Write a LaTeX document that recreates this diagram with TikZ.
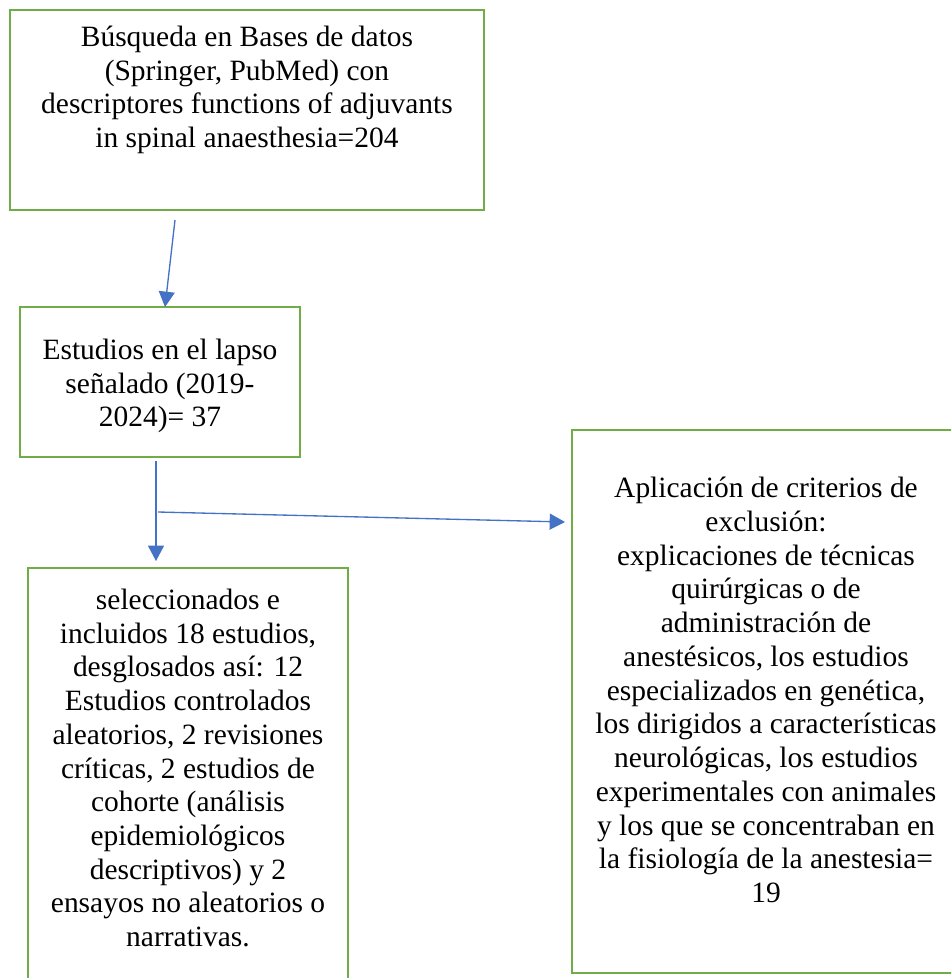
\documentclass[tikz,border=0pt]{standalone}
\usepackage{fontspec}
\setmainfont{Liberation Serif}
\usetikzlibrary{positioning}
\usetikzlibrary{arrows.meta}
\definecolor{boxgreen}{HTML}{70AD47}
\definecolor{arrowblue}{HTML}{4472C4}
\tikzset{
	stepbox/.style={draw=boxgreen, line width=2pt, rectangle, inner sep=0pt},
	steptext/.style={align=center, inner sep=0pt, font=\fontsize{22.1}{25.3}\selectfont},
	flow/.style={draw=arrowblue, line width=1pt, -{Triangle[length=11.5pt, width=12pt]}}
}

\begin{document}
\begin{tikzpicture}[x=0.75pt, y=-0.75pt]
	\useasboundingbox (0,0) rectangle (951,978);
	\clip (0,0) rectangle (951,978);
	% boxes
	\node[stepbox, minimum width=355.5pt, minimum height=150pt] (search) at (247,110) {};
	\node[stepbox, minimum width=210pt, minimum height=112.5pt] (period) at (160,382) {};
	\node[stepbox, minimum width=240pt, minimum height=316.5pt] (incl) at (188,779) {};
	\node[stepbox, minimum width=291pt, minimum height=407.25pt] (excl) at (766,701.5) {};

	\node[steptext] (searchtxt) at (247,90) {Búsqueda en Bases de datos\\(Springer, PubMed) con\\descriptores functions of adjuvants\\in spinal anaesthesia=204};
	\node[steptext] (periodtxt) at (160,386) {Estudios en el lapso\\señalado (2019-\\2024)= 37};
	\node[steptext] (incltxt) at (188,768) {seleccionados e\\incluidos 18 estudios,\\desglosados así: 12\\Estudios controlados\\aleatorios, 2 revisiones\\críticas, 2 estudios de\\cohorte (análisis\\epidemiológicos\\descriptivos) y 2\\ensayos no aleatorios o\\narrativas.};
	\node[steptext] (excltxt) at (766,690) {Aplicación de criterios de\\exclusión:\\explicaciones de técnicas\\quirúrgicas o de\\administración de\\anestésicos, los estudios\\especializados en genética,\\los dirigidos a características\\neurológicas, los estudios\\experimentales con animales\\y los que se concentraban en\\la fisiología de la anestesia=\\19};

	% connectors
	\coordinate (s1) at (175,220);
	\coordinate (t1) at (165,307);
	\coordinate (s2) at (156,461);
	\coordinate (t2) at (156,561);
	\coordinate (s3) at (158,512);
	\coordinate (t3) at (565,522);
	\draw[flow] (s1) -- (t1);
	\draw[flow] (s2) -- (t2);
	\draw[flow] (s3) -- (t3);
\end{tikzpicture}
\end{document}
